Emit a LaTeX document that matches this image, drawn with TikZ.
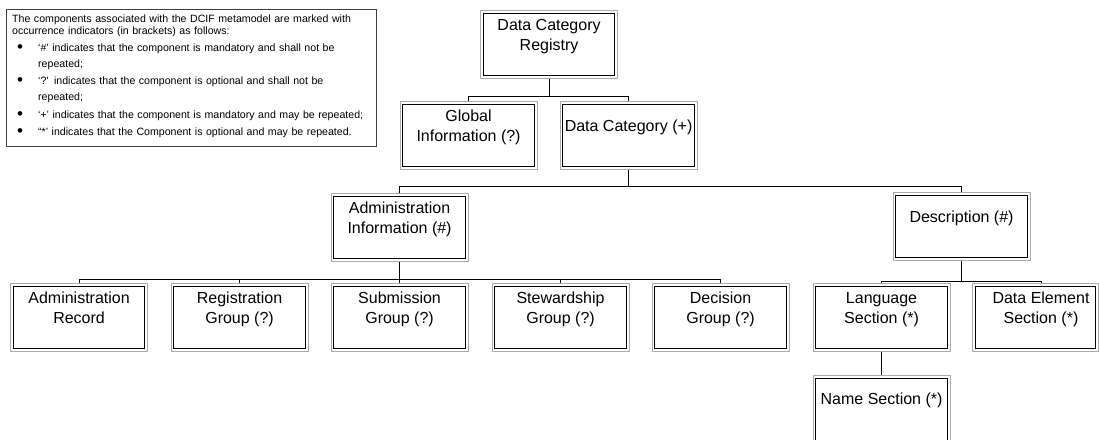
\documentclass[tikz,border=0pt]{standalone}
\usepackage{fontspec}
\setmainfont{Liberation Sans}
\begin{document}
\begin{tikzpicture}[x=1pt,y=-1pt,
  ubox/.style={draw=gray!65, line width=1.1pt, minimum width=137pt, minimum height=68pt,
    inner sep=0pt, anchor=north west,
    path picture={\draw[black, line width=0.8pt]
      ([shift={(2.7pt,2.7pt)}]path picture bounding box.south west) rectangle
      ([shift={(-2.7pt,-2.7pt)}]path picture bounding box.north east);}},
  utext/.style={font=\fontsize{16}{20}\selectfont, align=center, inner sep=0pt, anchor=north},
  link/.style={draw=black, line width=0.8pt},
  legendbox/.style={draw=black!75, line width=0.8pt, anchor=north west, inner sep=0pt,
    minimum width=370pt, minimum height=137pt},
  legtext/.style={font=\fontsize{10.6}{12}\selectfont, inner sep=0pt, anchor=base west,
    text width=350pt, align=left},
  itemtext/.style={font=\fontsize{10.6}{16}\selectfont, inner sep=0pt, anchor=base west,
    text width=335pt, align=left},
  dot/.style={font=\fontsize{17}{17}\selectfont, inner sep=0pt, anchor=center},
]
\useasboundingbox (0,0) rectangle (1099,439);

% box with a double border and its caption near the top
\newcommand\orgbox[5]{%
  \node[ubox] (#1) at (#2,#3) {};
  \node[utext] (#1t) at ([yshift=-#5pt]#1.north) {#4};}

% legend
\node[legendbox] (legend) at (6,9) {};
\node[legtext] (lg0) at (12,22.7) {The components associated with the DCIF metamodel are marked with\\occurrence indicators (in brackets) as follows:};
\node[dot] (d1) at (20,48.5) {•};
\node[itemtext] (lg1) at (38,51.7) {‘\#’ indicates that the component is mandatory and shall not be\\repeated;};
\node[dot] (d2) at (20,81.5) {•};
\node[itemtext] (lg2) at (38,84.7) {‘?’ indicates that the component is optional and shall not be\\repeated;};
\node[dot] (d3) at (20,115.5) {•};
\node[itemtext] (lg3) at (38,118.7) {‘+’ indicates that the component is mandatory and may be repeated;};
\node[dot] (d4) at (20,132.5) {•};
\node[itemtext] (lg4) at (38,135.7) {“*’ indicates that the Component is optional and may be repeated.};

% tree
\orgbox{reg}{480}{10}{Data Category\\Registry}{9}
\orgbox{glob}{399.5}{101}{Global\\Information (?)}{9}
\orgbox{dc}{559.5}{101}{Data Category (+)}{19}
\orgbox{ai}{330.5}{193}{Administration\\Information (\#)}{9}
\orgbox{desc}{892.5}{192}{Description (\#)}{19}
\orgbox{ar}{10}{283}{Administration\\Record}{9}
\orgbox{rg}{170.5}{283}{Registration\\Group (?)}{9}
\orgbox{sg}{330.5}{283}{Submission\\Group (?)}{9}
\orgbox{stg}{491.5}{283}{Stewardship\\Group (?)}{9}
\orgbox{dg}{651.5}{283}{Decision\\Group (?)}{9}
\orgbox{ls}{812.5}{283}{Language\\Section (*)}{9}
\node[ubox, minimum width=126pt] (de) at (972,283) {};
\node[utext] (det) at (1041,292) {Data Element\\Section (*)};
\orgbox{ns}{812.5}{375}{Name Section (*)}{18}

% connectors
\draw[link] (reg.south) -- ++(0,17) coordinate (b1);
\draw[link] (b1) -| (glob.north);
\draw[link] (b1) -| (dc.north);

\draw[link] (dc.south) -- ++(0,16) coordinate (b2);
\draw[link] (b2) -| (ai.north);
\draw[link] (b2) -| (desc.north);

\draw[link] (ai.south) -- ++(0,17) coordinate (b3);
\foreach \k in {ar,rg,sg,stg,dg} \draw[link] (b3) -| (\k.north);

\draw[link] (desc.south) -- ++(0,20) coordinate (b4);
\draw[link] (b4) -| (ls.north);
\draw[link] (b4) -| (det |- de.north);

\draw[link] (ls.south) -- (ns.north);
\end{tikzpicture}
\end{document}
